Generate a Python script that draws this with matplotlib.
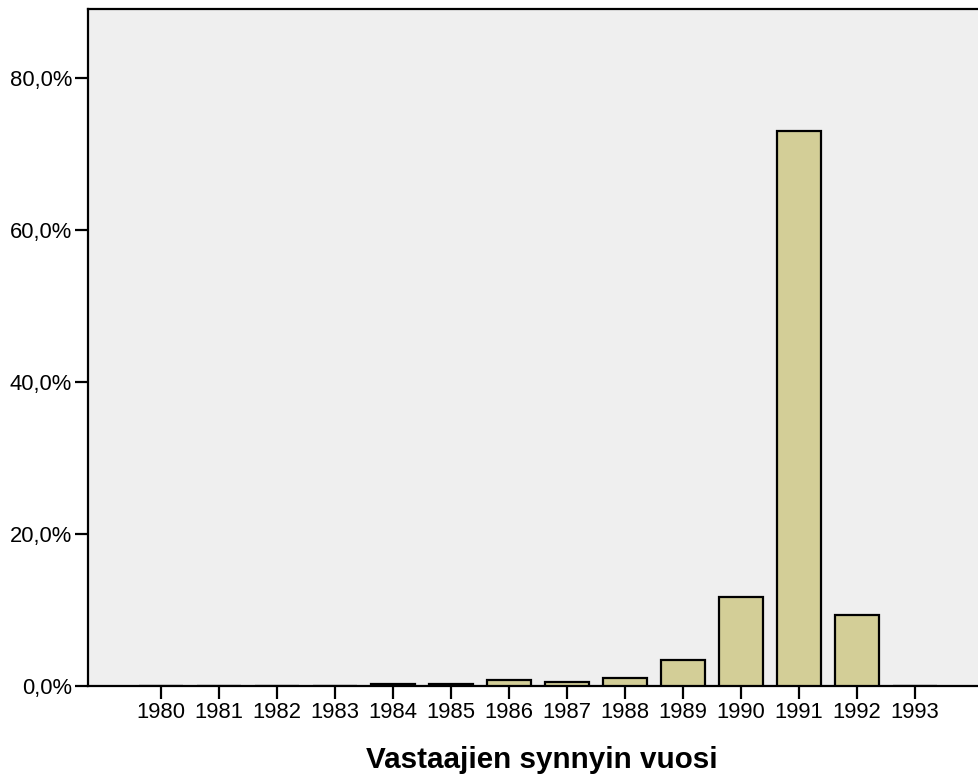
import matplotlib
matplotlib.use("Agg")
import matplotlib.pyplot as plt
from matplotlib.ticker import FuncFormatter

years = [1980, 1981, 1982, 1983, 1984, 1985, 1986, 1987, 1988, 1989, 1990, 1991, 1992, 1993]
percent = [0.0, 0.0, 0.0, 0.0, 0.25, 0.25, 0.75, 0.55, 1.1, 3.4, 11.7, 73.1, 9.3, 0.0]
yticks = [0, 20, 40, 60, 80]
xlabel = "Vastaajien synnyin vuosi"

plt.rcParams['font.family'] = ['Liberation Sans', 'DejaVu Sans']

fig = plt.figure(figsize=(9.79, 7.76), dpi=100)
ax = fig.add_axes([88/979, 1-686/776, 1-88/979, (686-9)/776])
ax.set_facecolor('#efefef')

x = list(range(len(years)))
ax.bar(x, percent, width=0.76, color='#d3ce97', edgecolor='black', linewidth=1.6, zorder=3)

ax.set_xlim(-1.264, len(years) - 1 + 1.10)
ax.set_ylim(0, 89.1)
ax.set_xticks(x)
ax.set_xticklabels([str(y) for y in years])
ax.set_yticks(yticks)
ax.yaxis.set_major_formatter(FuncFormatter(lambda v, p: f"{v:.1f}".replace('.', ',') + '%'))

ax.tick_params(axis='both', direction='out', length=9.5, width=1.6, labelsize=15.8, color='black', pad=2)
for s in ['left', 'bottom', 'top']:
    ax.spines[s].set_linewidth(1.6)
    ax.spines[s].set_color('black')
ax.spines['right'].set_visible(False)

fig.text(542/979, 1-760/776, xlabel, ha='center', va='center', fontsize=21.3, fontweight='bold')

fig.savefig('out.png', dpi=100)
